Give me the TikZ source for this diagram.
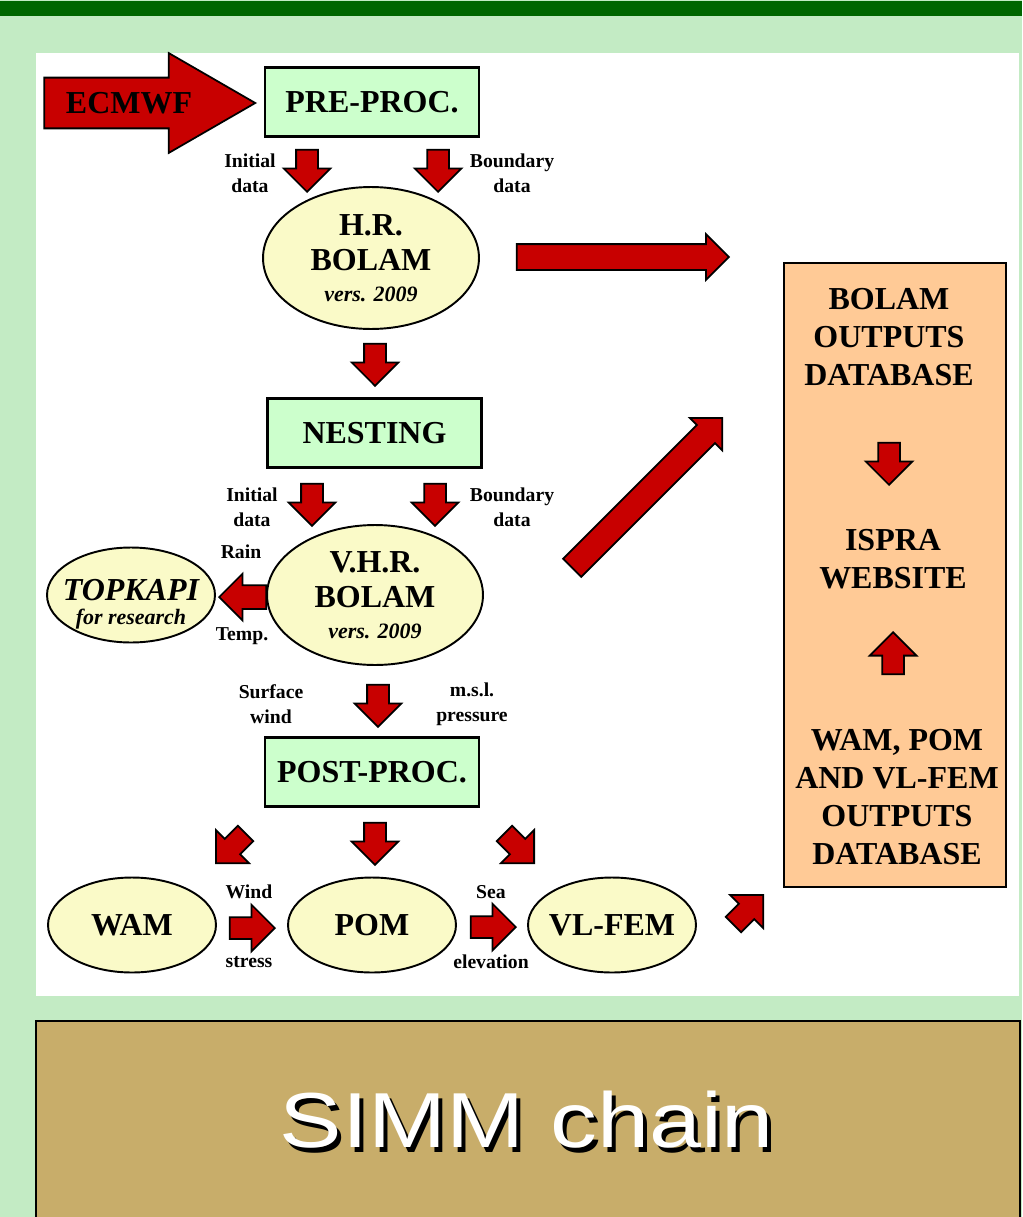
\documentclass[tikz,border=0pt]{standalone}
\usepackage{fontspec}
\setmainfont{Liberation Serif}
\newfontfamily\simmfont{Liberation Sans}
\usetikzlibrary{shapes.geometric, shapes.arrows, positioning}
\definecolor{bggreen}{HTML}{C3EBC4}
\definecolor{bargreen}{HTML}{006600}
\definecolor{procgreen}{HTML}{CCFFCC}
\definecolor{modelyellow}{HTML}{FAFAC8}
\definecolor{arrowred}{HTML}{C80000}
\definecolor{dborange}{HTML}{FFCA96}
\definecolor{titletan}{HTML}{C8AD6A}
\newcommand\boxfont{\fontsize{18.2}{21.6}\selectfont\bfseries}
\newcommand\lblfont{\fontsize{11.2}{14.2}\selectfont\bfseries}
\newcommand\versfont{\fontsize{12.5}{14}\selectfont\bfseries\itshape}
\newcommand\titlefont{\simmfont\fontsize{44.4}{50}\selectfont}
\tikzset{
  proc/.style      = {draw, line width=1.3pt, fill=procgreen, minimum width=4.28cm,
                      minimum height=1.38cm, font=\boxfont},
  model/.style     = {ellipse, draw, line width=1.1pt, fill=modelyellow, inner sep=0pt,
                      align=center, font=\boxfont, minimum width=3.36cm, minimum height=1.9cm},
  bigmodel/.style  = {model, minimum width=4.32cm, minimum height=2.84cm},
  lbl/.style       = {font=\lblfont, align=center, inner sep=0pt},
  dbtxt/.style     = {font=\boxfont, align=center, inner sep=0pt},
  redarrow/.style  = {single arrow, draw, line width=1pt, fill=arrowred,
                      inner xsep=0pt, inner ysep=0.2cm,
                      single arrow head extend=0.25cm, single arrow tip angle=90,
                      minimum height=0.84cm, minimum width=0.9cm, anchor=tip},
  longarrow/.style = {redarrow, inner ysep=0.24cm, minimum height=4.24cm,
                      minimum width=0.88cm, single arrow head extend=0.2cm},
}

\begin{document}
\begin{tikzpicture}[x=0.02cm, y=-0.02cm]
    \useasboundingbox (0,0) rectangle (1022,1217);
    % page
    \fill[bggreen] (0,0) rectangle (1022,1217);
    \fill[bargreen] (0,1) rectangle (1022,16);
    \fill[white] (36,53) rectangle (1019,996);
    \draw[line width=1.2pt, fill=titletan] (36,1021) rectangle (1020,1240);

    % BOLAM chain
    \node[redarrow, inner ysep=0.49cm, single arrow tip angle=60,
          single arrow head extend=0.49cm, minimum height=4.22cm,
          minimum width=1.96cm] (feed) at (257,103) {};
    \node[font=\boxfont] (ecmwf) at (129,103) {ECMWF};
    \node[proc] (preproc) at (372,102) {PRE-PROC.};

    \node[redarrow, rotate=-90] (initA) at (307,193) {};
    \node[redarrow, rotate=-90] (bndA) at (438,193) {};
    \node[lbl] at (250,173) {Initial\\data};
    \node[lbl] at (512,173) {Boundary\\data};

    \node[bigmodel] (hrbolam) at (371,258)
      {H.R.\\[-1.6pt]BOLAM\\[-4pt]{\versfont vers. 2009}};
    \node[longarrow] (hrToDb) at (730,257) {};
    \node[redarrow, rotate=-90] (hrToNest) at (375,387) {};
    \node[proc] (nesting) at (374.5,433) {NESTING};

    \node[redarrow, rotate=-90] (initB) at (312,527) {};
    \node[redarrow, rotate=-90] (bndB) at (435,527) {};
    \node[lbl] at (252,507) {Initial\\data};
    \node[lbl] at (512,507) {Boundary\\data};

    \node[bigmodel, minimum height=2.8cm] (vhrbolam) at (375,595)
      {V.H.R.\\[-1.6pt]BOLAM\\[-4pt]{\versfont vers. 2009}};
    \node[model] (topkapi) at (131,595) {};
    \node[font=\boxfont\itshape, align=center, inner sep=0pt] (topkapitxt)
      at ([yshift=-0.18cm]topkapi.center) {TOPKAPI\\[-8pt]{\versfont for research}};
    \node[redarrow, rotate=180, inner ysep=0.22cm, single arrow head extend=0.23cm,
          minimum height=0.94cm] (toTopkapi) at (218,597) {};
    \node[lbl] at (241,552) {Rain};
    \node[lbl] at (242,636) {Temp.};
    \node[longarrow, rotate=45] (vhrToDb) at (723,417) {};

    \node[redarrow, rotate=-90] (vhrToPost) at (378,728) {};
    \node[lbl] at (271,704) {Surface\\wind};
    \node[lbl] at (472,704) {m.s.l.\\pressure};
    \node[proc] (postproc) at (372,772) {POST-PROC.};

    % ocean models
    \node[redarrow, rotate=-135] (toWam) at (215,864) {};
    \node[redarrow, rotate=-90] (toPom) at (375,866) {};
    \node[redarrow, rotate=-45] (toVlfem) at (535,864) {};
    \node[model] (wam) at (132,925) {WAM};
    \node[model] (pom) at (372,925) {POM};
    \node[model] (vlfem) at (612,925) {};
    \node[font=\boxfont, inner sep=0pt] (vlfemtxt) at (vlfem.center) {VL-FEM};
    \node[redarrow, minimum height=0.9cm] (wamToPom) at (276,928) {};
    \node[redarrow, minimum height=0.9cm] (pomToVlfem) at (517,927) {};
    \node[lbl] at (249,892) {Wind};
    \node[lbl] at (249,962) {stress};
    \node[lbl] at (491,892) {Sea};
    \node[lbl] at (491,962) {elevation};
    \node[redarrow, rotate=45] (vlfemToDb) at (764,894) {};

    % databases
    \node[draw, line width=1.3pt, fill=dborange, minimum width=4.44cm,
          minimum height=12.48cm] (outbox) at (895,575) {};
    \node[dbtxt] (bolamdb) at (889,337) {BOLAM\\OUTPUTS\\DATABASE};
    \node[redarrow, rotate=-90] (dbToWeb) at (889,486) {};
    \node[dbtxt] (ispra) at (893,559) {ISPRA\\WEBSITE};
    \node[redarrow, rotate=90] (waveToWeb) at (893,631) {};
    \node[dbtxt] (wavedb) at (897,797) {WAM, POM\\AND VL-FEM\\OUTPUTS\\DATABASE};

    % title
    \node[font=\titlefont, text=black] (simmshade) at (531,1125)
      {\scalebox{1.2}[1]{SIMM chain}};
    \node[font=\titlefont, text=white] (simm) at (527,1120)
      {\scalebox{1.2}[1]{SIMM chain}};
\end{tikzpicture}
\end{document}
